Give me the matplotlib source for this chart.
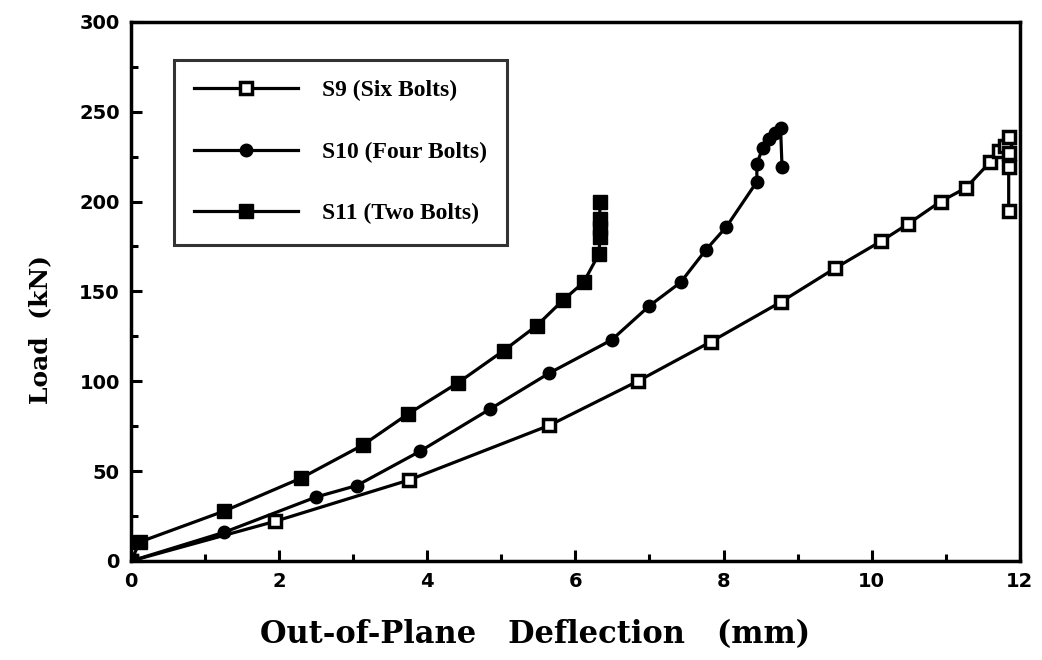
import numpy as np
import matplotlib.pyplot as plt
from matplotlib.ticker import MultipleLocator

# S9 (six bolts) - open squares
s9_x = [0, 1.94, 3.75, 5.65, 6.84, 7.83, 8.77, 9.51, 10.13, 10.49, 10.93, 11.27,
        11.6, 11.72, 11.8, 11.85, 11.85, 11.85, 11.85]
s9_y = [0, 22, 45, 75.5, 100, 122, 144, 163, 178, 187.5, 200, 207.5,
        222, 228, 231, 236, 227, 219, 195]

# S10 (four bolts) - filled circles
s10_x = [0, 1.26, 2.5, 3.05, 3.9, 4.85, 5.65, 6.49, 7.0, 7.42, 7.76, 8.04,
         8.45, 8.45, 8.53, 8.62, 8.7, 8.77, 8.79]
s10_y = [0, 16, 35.6, 42, 61, 84.6, 104.6, 123, 142, 155, 173, 186,
         211, 221, 230, 235, 238, 241, 219]

# S11 (two bolts) - filled squares
s11_x = [0, 0.12, 1.26, 2.29, 3.13, 3.74, 4.41, 5.03, 5.48, 5.83, 6.11, 6.32,
         6.33, 6.33, 6.33, 6.33]
s11_y = [0, 10.6, 27.8, 46, 64.5, 81.8, 99, 117, 131, 145, 155, 171,
         180, 185, 190, 200]

labels = ['S9 (Six Bolts)', 'S10 (Four Bolts)', 'S11 (Two Bolts)']

fig = plt.figure(figsize=(10.42, 6.6), dpi=100)
ax = fig.add_axes([0.1257, 0.15, 0.853, 0.817])

lw = 2.3
ax.plot(s9_x, s9_y, color='black', lw=lw, marker='s', ms=9,
        mfc='white', mec='black', mew=2.5, label=labels[0])
ax.plot(s10_x, s10_y, color='black', lw=lw, marker='o', ms=9,
        mfc='black', mec='black', label=labels[1])
ax.plot(s11_x, s11_y, color='black', lw=lw, marker='s', ms=10,
        mfc='black', mec='black', label=labels[2])

ax.set_xlim(0, 12)
ax.set_ylim(0, 300)
ax.xaxis.set_major_locator(MultipleLocator(2))
ax.xaxis.set_minor_locator(MultipleLocator(1))
ax.yaxis.set_major_locator(MultipleLocator(50))
ax.yaxis.set_minor_locator(MultipleLocator(25))
ax.tick_params(which='both', direction='in', width=2.2, top=False, right=False)
ax.tick_params(which='major', length=8, labelsize=14, pad=8)
ax.tick_params(which='minor', length=5)
for lab in ax.get_xticklabels() + ax.get_yticklabels():
    lab.set_fontweight('bold')
    lab.set_family('DejaVu Sans')
for sp in ax.spines.values():
    sp.set_linewidth(2.5)

ax.set_xlabel('Out-of-Plane   Deflection   (mm)', family='DejaVu Serif',
              fontweight='bold', fontsize=22)
ax.xaxis.set_label_coords(0.455, -0.108)
ax.set_ylabel('Load  (kN)', family='DejaVu Serif',
              fontweight='bold', fontsize=18)
ax.yaxis.set_label_coords(-0.089, 0.43)

leg = ax.legend(loc='upper left', bbox_to_anchor=(0.048, 0.93),
                prop={'family': 'Liberation Serif', 'weight': 'bold', 'size': 17},
                frameon=True, fancybox=False, edgecolor='black',
                handlelength=4.4, handletextpad=1.05, labelspacing=1.7,
                borderpad=0.85, borderaxespad=0)
leg.get_frame().set_linewidth(2.2)

plt.savefig('out.png', dpi=100)
plt.close()
